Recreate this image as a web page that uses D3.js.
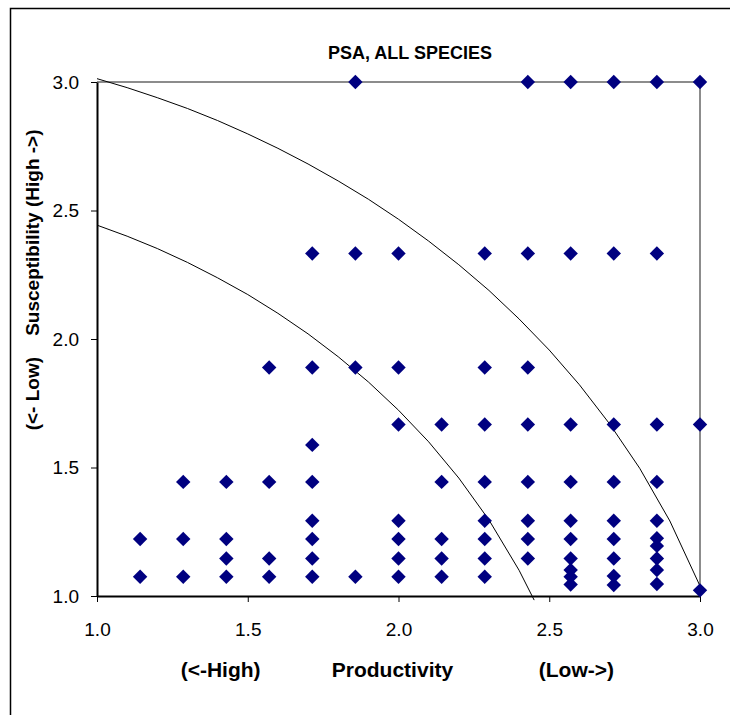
<!DOCTYPE html>
<html>
<head>
<meta charset="utf-8">
<script src="https://cdn.jsdelivr.net/npm/d3@7/dist/d3.min.js"></script>
<style>
    body { margin: 0; background: #fff; }
    text { font-family: 'Liberation Sans', Arial, sans-serif; }
</style>
</head>
<body>
<div id="chart"></div>
<script>
// species scores (x = productivity, y = susceptibility)
const productivity = [
    1.143, 1.143,
    1.286, 1.286, 1.286,
    1.429, 1.429, 1.429, 1.429,
    1.571, 1.571, 1.571, 1.571,
    1.714, 1.714, 1.714, 1.714, 1.714, 1.714, 1.714, 1.714,
    1.857, 1.857, 1.857, 1.857,
    2.0, 2.0, 2.0, 2.0, 2.0, 2.0, 2.0,
    2.143, 2.143, 2.143, 2.143, 2.143,
    2.286, 2.286, 2.286, 2.286, 2.286, 2.286, 2.286, 2.286,
    2.429, 2.429, 2.429, 2.429, 2.429, 2.429, 2.429, 2.429,
    2.571, 2.571, 2.571, 2.571, 2.571, 2.571, 2.571, 2.571, 2.571, 2.571,
    2.714, 2.714, 2.714, 2.714, 2.714, 2.714, 2.714, 2.714, 2.714,
    2.857, 2.857, 2.857, 2.857, 2.857, 2.857, 2.857, 2.857, 2.857, 2.857,
    3.0, 3.0, 3.0
]
const susceptibility = [
    1.222, 1.075,
    1.444, 1.222, 1.075,
    1.444, 1.222, 1.146, 1.075,
    1.889, 1.444, 1.146, 1.075,
    2.333, 1.889, 1.588, 1.444, 1.293, 1.222, 1.146, 1.075,
    3.0, 2.333, 1.889, 1.075,
    2.333, 1.889, 1.667, 1.293, 1.222, 1.146, 1.075,
    1.667, 1.444, 1.222, 1.146, 1.075,
    2.333, 1.889, 1.667, 1.444, 1.293, 1.222, 1.146, 1.075,
    3.0, 2.333, 1.889, 1.667, 1.444, 1.293, 1.222, 1.146,
    3.0, 2.333, 1.667, 1.444, 1.293, 1.222, 1.146, 1.101, 1.075, 1.045,
    3.0, 2.333, 1.667, 1.444, 1.293, 1.222, 1.146, 1.078, 1.043,
    3.0, 2.333, 1.667, 1.444, 1.293, 1.225, 1.195, 1.146, 1.101, 1.047,
    3.0, 1.667, 1.022
]

// the two risk curves
const outerX = [1.0, 1.1, 1.2, 1.3, 1.4, 1.5, 1.6, 1.7, 1.8, 1.9, 2.0, 2.1, 2.2, 2.3, 2.4, 2.5, 2.6, 2.7, 2.8, 2.9, 3.0]
const outerY = [3.013, 2.978, 2.939, 2.897, 2.850, 2.798, 2.742, 2.681, 2.615, 2.544, 2.466, 2.381, 2.289, 2.189, 2.078, 1.957, 1.822, 1.670, 1.497, 1.292, 1.039]
const innerX = [1.0, 1.1, 1.2, 1.3, 1.4, 1.5, 1.6, 1.7, 1.8, 1.9, 2.0, 2.1, 2.2, 2.3, 2.4, 2.45]
const innerY = [2.443, 2.400, 2.352, 2.298, 2.238, 2.173, 2.100, 2.020, 1.931, 1.833, 1.723, 1.600, 1.459, 1.296, 1.100, 0.984]

const xTicks = [1.0, 1.5, 2.0, 2.5, 3.0]
const yTicks = [1.0, 1.5, 2.0, 2.5, 3.0]
const title = 'PSA, ALL SPECIES'
const xLabels = ['(<-High)', 'Productivity', '(Low->)']
const yLabel = '(<- Low)    Susceptibility (High ->)'

const margin = { top: 82, right: 30, bottom: 119, left: 97 }
const totalWidth = 730
const totalHeight = 715
const width = totalWidth - margin.left - margin.right
const height = totalHeight - margin.top - margin.bottom

const svg = d3.select('#chart')
    .append('svg')
        .attr('width', totalWidth)
        .attr('height', totalHeight)

// chart area border, cut off at the right and bottom like the source
svg.append('rect')
    .attr('x', 10.5)
    .attr('y', 8.5)
    .attr('width', 900)
    .attr('height', 900)
    .attr('fill', 'none')
    .attr('stroke', '#000')
    .attr('stroke-width', 1.5)

svg.append('text')
    .attr('x', 410)
    .attr('y', 59)
    .attr('text-anchor', 'middle')
    .attr('font-size', 18)
    .attr('font-weight', 'bold')
    .text(title)

const canvas = svg.append('g')
    .attr('transform', `translate(${margin.left}, ${margin.top})`)

const x = d3.scaleLinear()
    .domain([1, 3])
    .range([0, width])

const y = d3.scaleLinear()
    .domain([1, 3])
    .range([height, 0])

// grey top and right edges of the plot area
canvas.append('path')
    .attr('d', `M0,0H${width}V${height}`)
    .attr('fill', 'none')
    .attr('stroke', '#8c8c8c')
    .attr('stroke-width', 2)

const xAxis = canvas.append('g')
    .attr('transform', `translate(0, ${height})`)
    .call(d3.axisBottom(x)
        .tickValues(xTicks)
        .tickFormat(d3.format('.1f'))
        .tickSize(6)
        .tickSizeOuter(0)
        .tickPadding(21))

const yAxis = canvas.append('g')
    .call(d3.axisLeft(y)
        .tickValues(yTicks)
        .tickFormat(d3.format('.1f'))
        .tickSize(6)
        .tickSizeOuter(0)
        .tickPadding(12))

;[xAxis, yAxis].forEach(axis => {
    axis.select('.domain')
        .attr('stroke', '#000')
        .attr('stroke-width', 2)
    axis.selectAll('.tick line')
        .attr('stroke', '#000')
    axis.selectAll('text')
        .attr('fill', '#000')
        .style('font-size', '19px')
        .style('font-family', "'Liberation Sans', Arial, sans-serif")
})

const line = d3.line()
    .x(d => x(d[0]))
    .y(d => y(d[1]))

canvas.append('path')
    .datum(d3.zip(outerX, outerY))
    .attr('d', line)
    .attr('fill', 'none')
    .attr('stroke', '#000')
    .attr('stroke-width', 1)

canvas.append('path')
    .datum(d3.zip(innerX, innerY))
    .attr('d', line)
    .attr('fill', 'none')
    .attr('stroke', '#000')
    .attr('stroke-width', 1)

const diamond = d3.symbol(d3.symbolSquare, 104)

canvas.selectAll('.species')
    .data(d3.zip(productivity, susceptibility))
    .enter()
    .append('path')
        .attr('class', 'species')
        .attr('d', diamond)
        .attr('transform', d => `translate(${x(d[0])}, ${y(d[1])}) rotate(45)`)
        .attr('fill', '#000080')

const xLabelPos = [1.41, 1.98, 2.59]
svg.selectAll('.xlabel')
    .data(xLabels)
    .enter()
    .append('text')
        .attr('class', 'xlabel')
        .attr('x', (d, i) => margin.left + x(xLabelPos[i]))
        .attr('y', 677)
        .attr('text-anchor', 'middle')
        .attr('font-size', 21)
        .attr('font-weight', 'bold')
        .text(d => d)

svg.append('text')
    .attr('transform', `translate(39, ${margin.top + height * 0.385}) rotate(-90)`)
    .attr('text-anchor', 'middle')
    .attr('font-size', 19)
    .attr('font-weight', 'bold')
    .style('white-space', 'pre')
    .text(yLabel)
</script>
</body>
</html>
